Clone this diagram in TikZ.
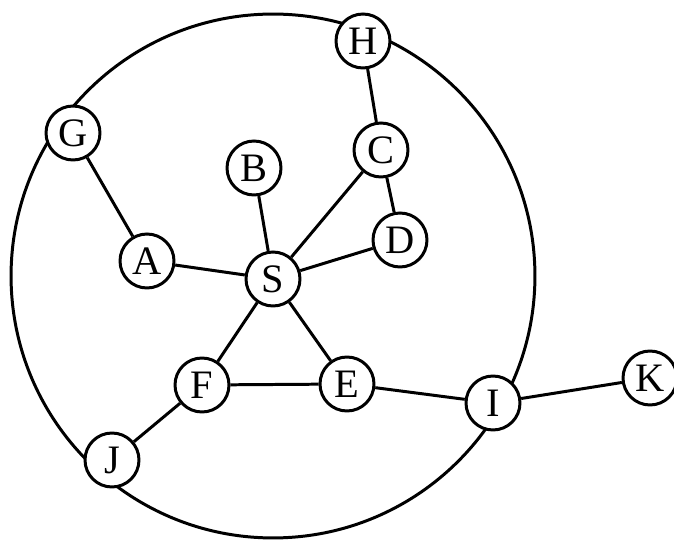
\documentclass[tikz,border=0pt]{standalone}
\usepackage{fontspec}
\setmainfont{Liberation Serif}
\usepackage{tikz}
\usetikzlibrary{positioning}

\begin{document}
\begin{tikzpicture}[
            x=0.02cm, y=-0.02cm,
            vertex/.style={draw=black, line width=1.7pt, circle, fill=white, minimum size=1.08cm, inner sep=0pt, font=\fontsize{23}{23}\selectfont},
            edge/.style={line width=1.7pt},
            ring/.style={line width=1.7pt}
        ]
        \useasboundingbox (0,0) rectangle (674,540);

        % Ring
        \coordinate (m) at (273,276);
        \draw[ring] (m) circle[radius=5.24cm];

        % Knoten
        \node[vertex] (H) at (363,41) {H};
        \node[vertex] (G) at (73,133) {G};
        \node[vertex] (C) at (381,150) {C};
        \node[vertex] (B) at (254,168) {B};
        \node[vertex] (D) at (400,240) {D};
        \node[vertex] (A) at (147,261) {A};
        \node[vertex] (S) at (273,279) {S};
        \node[vertex] (F) at (202,385) {F};
        \node[vertex] (E) at (347,384) {E};
        \node[vertex] (I) at (493,403) {I};
        \node[vertex] (K) at (650,378) {K};
        \node[vertex] (J) at (112,460) {J};

        % Kanten zwischen Knoten
        \draw[edge] (G) -- (A);
        \draw[edge] (A) -- (S);
        \draw[edge] (B) -- (S);
        \draw[edge] (H) -- (C);
        \draw[edge] (C) -- (S);
        \draw[edge] (C) -- (D);
        \draw[edge] (D) -- (S);
        \draw[edge] (S) -- (F);
        \draw[edge] (S) -- (E);
        \draw[edge] (F) -- (E);
        \draw[edge] (F) -- (J);
        \draw[edge] (E) -- (I);
        \draw[edge] (I) -- (K);

    \end{tikzpicture}
\end{document}
